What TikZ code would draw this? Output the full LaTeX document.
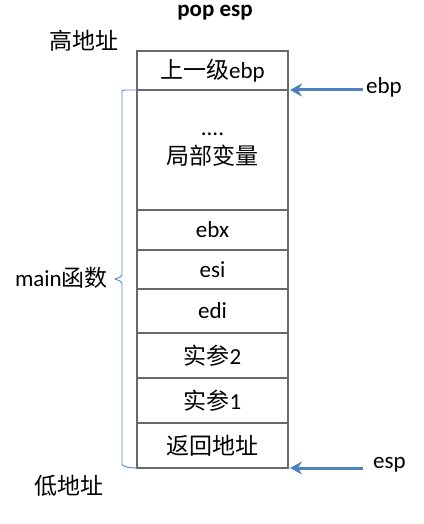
\documentclass[tikz,border=0pt]{standalone}
\usepackage{fontspec}
\setmainfont{Carlito}
\newfontfamily\cjk{Noto Sans CJK SC}
\usetikzlibrary{arrows.meta,positioning,calc}
\definecolor{framegray}{RGB}{105,105,105}
\definecolor{ptrblue}{RGB}{79,129,189}
\definecolor{braceblue}{RGB}{90,140,200}
\tikzset{
  cell/.style={draw=framegray, line width=1.2pt, minimum width=151pt, outer sep=0pt,
    inner sep=0pt, align=center, font=\fontsize{23}{29}\selectfont},
  lbl/.style={inner sep=0pt, font=\fontsize{23}{27}\selectfont},
  ptr/.style={draw=ptrblue, line width=3pt, -{Stealth[length=12pt,width=13pt,inset=4pt]}},
  bracket/.style={draw=braceblue, line width=0.9pt},
}

\begin{document}
\begin{tikzpicture}[x=1pt,y=-1pt]
  \useasboundingbox (0,0) rectangle (423,524);

  \node[lbl, font=\fontsize{23}{27}\selectfont\bfseries] (title) at (215,13) {pop esp};
  \node[lbl] (high) at (84,41) {\cjk 高地址};
  \node[lbl] (low) at (69,486) {\cjk 低地址};

  % stack cells, top to bottom
  \node[cell, minimum height=39pt, anchor=north west] (s1) at (137,51) {{\cjk 上一级}ebp};
  \node[cell, minimum height=120pt, below=0pt of s1] (s2) {....\\{\cjk 局部变量}};
  \node[cell, minimum height=40pt, below=0pt of s2] (s3) {ebx};
  \node[cell, minimum height=39pt, below=0pt of s3] (s4) {esi};
  \node[cell, minimum height=44pt, below=0pt of s4] (s5) {edi};
  \node[cell, minimum height=45pt, below=0pt of s5] (s6) {{\cjk 实参}2};
  \node[cell, minimum height=45pt, below=0pt of s6] (s7) {{\cjk 实参}1};
  \node[cell, minimum height=45pt, below=0pt of s7] (s8) {\cjk 返回地址};

  % main frame
  \coordinate (bmid) at ($(s1.south west)!0.5!(s8.south west)$);
  \draw[bracket] (s1.south west) -- ++(-12,0) .. controls +(-3,0) and +(0,-2) .. ++(-3,3)
    -- ($(bmid)+(-15,-5)$) .. controls +(0,3) and +(3,-1) .. ($(bmid)+(-22,0)$)
    .. controls +(3,1) and +(0,-3) .. ($(bmid)+(-15,5)$)
    -- ($(s8.south west)+(-15,-4)$) .. controls +(0,3) and +(-6,0) .. (s8.south west);
  \node[lbl, anchor=east] (mainlbl) at ($(bmid)+(-29,-1)$) {main{\cjk 函数}};

  % registers
  \node[lbl, anchor=west] (ebplbl) at (366,87) {ebp};
  \node[lbl, anchor=west] (esplbl) at (373,465) {esp};
  \draw[ptr, shorten <=3pt, shorten >=2pt] (s1.south east -| ebplbl.west) -- (s1.south east);
  \draw[ptr, shorten <=10pt, shorten >=2pt] (s8.south east -| esplbl.west) -- (s8.south east);
\end{tikzpicture}
\end{document}
